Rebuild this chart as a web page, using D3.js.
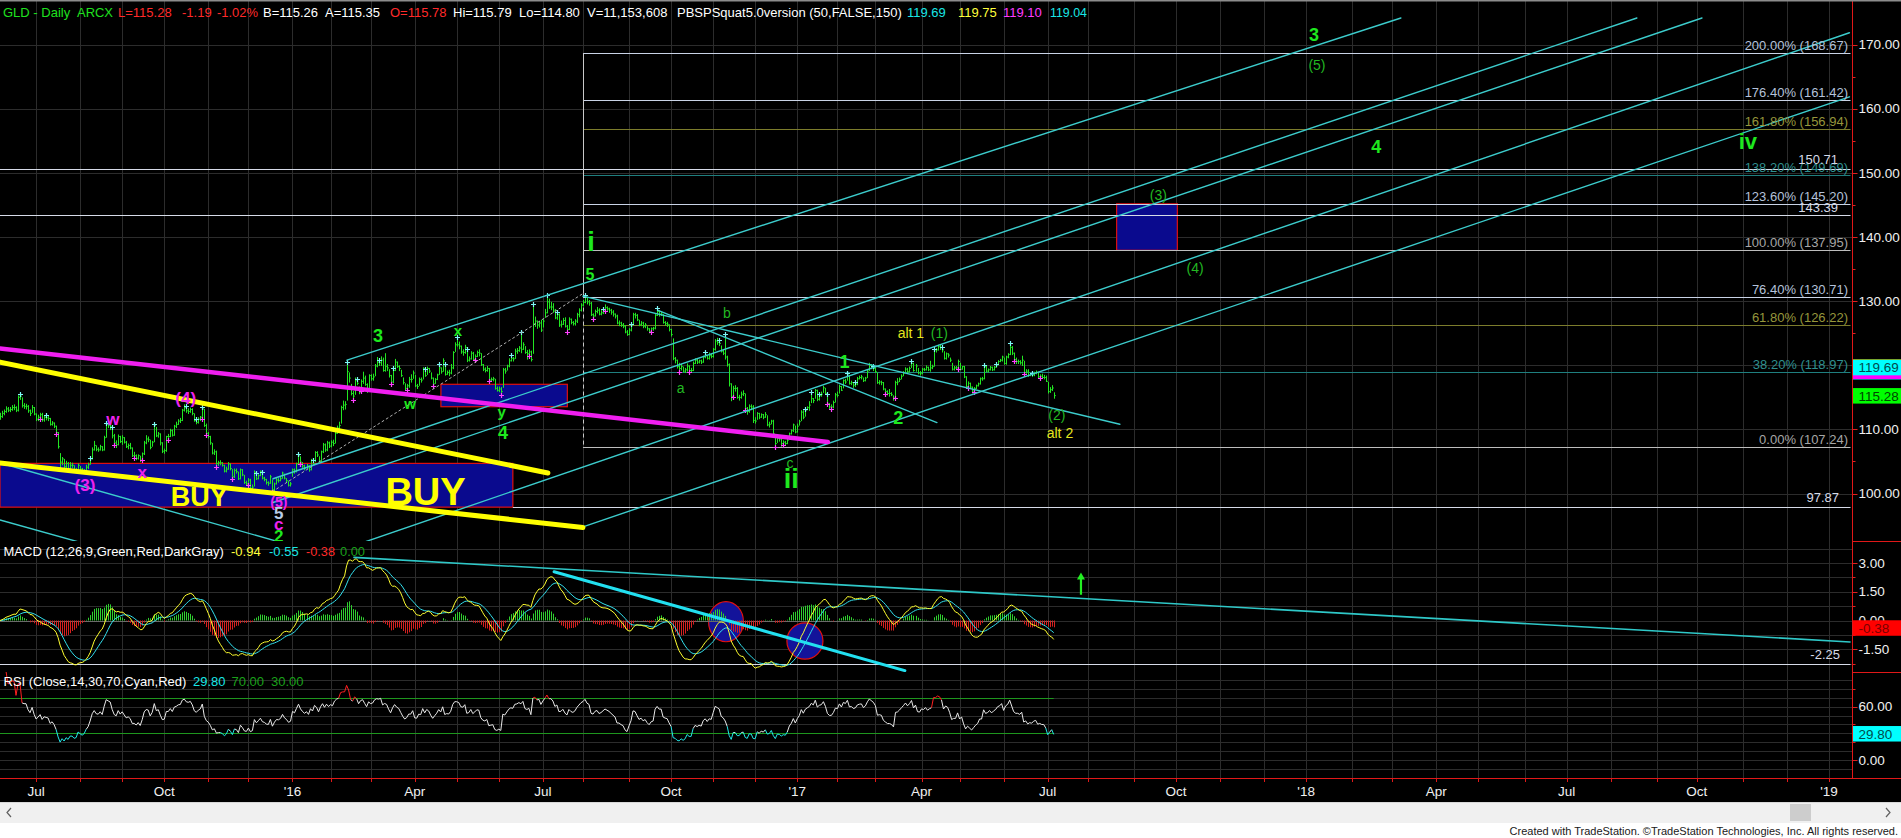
<!DOCTYPE html>
<html><head><meta charset="utf-8">
<script src="https://cdn.jsdelivr.net/npm/d3@7"></script>
<style>html,body{margin:0;padding:0;background:#000;overflow:hidden}text{font-family:'Liberation Sans',Arial,sans-serif}</style>
</head><body>
<svg id="c" width="1901" height="838"></svg>
<script>
// ---------------- DATA ----------------
// GLD daily bars, Jun 5 2015 .. Jul 7 2017 (bar index 0 = Jun 5 2015, Jul 1 2015 = 18)
const closes = [
112.0,112.5,112.8,113.2,113.0,113.1,113.4,113.4,113.0,115.0,115.2,113.7,113.6,113.6,112.9,112.5,113.4,112.4,
111.6,111.9,112.3,111.5,111.9,111.8,111.7,110.8,111.0,110.5,109.5,107.3,104.9,105.4,104.2,104.7,103.9,104.4,104.4,103.5,103.6,104.4,
103.8,103.3,103.5,104.1,104.5,105.4,106.8,107.5,106.9,106.8,107.3,106.8,108.7,110.8,110.6,110.4,109.0,107.9,107.6,108.9,108.1,
108.7,108.0,107.3,107.5,107.1,105.9,105.9,105.5,105.9,105.2,106.2,107.9,108.5,108.4,107.2,108.0,110.6,109.0,109.3,107.9,106.6,
106.7,108.9,108.9,109.8,109.1,110.5,110.8,111.3,111.4,113.0,113.4,112.9,112.8,113.1,112.5,111.4,111.1,111.6,111.9,113.2,110.6,109.4,
108.9,107.9,106.3,106.5,104.7,104.8,104.8,104.4,103.5,103.8,104.6,103.9,102.6,103.6,103.4,102.3,103.7,102.9,101.7,101.5,
102.1,100.8,101.0,103.3,102.3,102.8,103.4,102.4,102.2,101.7,101.6,102.6,100.6,101.5,102.1,102.0,102.3,103.2,102.4,102.0,101.3,101.5,
103.7,103.4,104.6,105.9,104.9,104.3,103.9,104.3,103.7,105.2,104.7,106.4,106.0,105.0,106.5,107.6,106.8,107.9,107.4,
108.0,107.8,109.4,110.2,110.6,113.4,113.8,113.9,119.0,118.0,115.6,115.2,117.7,117.2,115.8,117.5,118.0,117.0,116.0,118.4,
117.9,118.2,119.9,120.5,120.4,120.8,119.2,119.8,119.6,118.4,117.4,119.2,120.5,119.8,119.5,118.4,117.3,116.4,116.8,117.8,117.8,118.8,
116.8,116.7,117.8,117.7,119.5,118.4,119.5,119.1,118.0,117.1,117.8,118.5,119.6,119.0,120.7,118.6,118.9,118.8,119.6,122.0,123.2,
123.2,123.0,122.1,122.0,122.8,120.8,121.0,121.9,120.9,121.4,122.0,121.9,120.1,119.4,119.2,119.5,117.7,117.8,117.9,116.4,116.1,
116.3,115.9,119.3,119.1,119.9,120.7,121.1,121.0,122.2,122.3,122.7,122.5,123.2,122.0,121.8,122.1,120.9,126.5,126.9,126.3,126.6,125.5,
126.9,128.2,129.9,129.1,129.1,128.6,127.4,127.9,126.3,126.4,127.0,126.1,125.6,127.2,126.7,126.5,126.9,127.9,128.6,129.4,
129.8,130.6,129.9,129.7,127.9,127.7,128.4,128.6,128.0,128.2,128.6,129.0,128.8,128.6,128.3,128.0,127.7,126.6,126.6,126.3,126.1,125.2,124.8,
125.5,126.2,127.9,127.8,127.1,126.4,126.6,126.1,126.3,125.7,125.3,125.7,125.8,127.8,128.4,128.0,128.0,126.7,126.5,126.4,125.6,
124.8,121.1,120.8,119.8,119.5,119.8,119.1,119.3,119.9,119.2,119.2,120.3,120.8,120.5,120.7,120.5,121.3,121.6,121.1,121.5,121.4,
122.5,123.8,123.6,123.4,122.2,121.9,121.3,120.1,117.1,115.1,116.4,116.4,115.0,115.0,115.5,115.6,113.3,112.8,113.6,113.5,111.4,
111.3,112.5,111.9,112.3,111.9,112.3,110.7,110.8,111.3,109.3,107.8,108.6,108.5,107.8,108.0,107.8,108.3,109.3,109.8,110.7,109.6,
110.5,111.2,112.7,111.9,113.0,113.4,113.8,114.8,114.5,116.1,114.7,115.3,115.5,116.5,115.6,114.0,113.5,113.5,114.2,115.4,
115.3,116.7,116.1,117.6,117.4,118.5,117.2,117.3,116.9,117.1,117.9,118.1,118.2,117.6,118.0,119.1,120.0,119.7,119.5,
119.0,117.3,117.4,117.3,116.3,115.9,115.6,115.6,115.4,114.9,117.3,117.4,117.8,118.3,118.8,119.4,119.0,119.5,120.3,119.2,119.9,118.8,118.7,
119.4,119.3,119.7,119.3,119.6,119.8,122.4,122.4,122.9,122.8,122.4,121.1,121.8,121.6,120.8,119.4,119.6,119.6,120.6,
119.4,119.8,118.2,116.7,117.2,116.6,116.0,116.4,116.8,117.1,117.9,117.9,119.8,119.1,119.3,119.7,119.3,119.7,120.0,120.6,120.8,121.3,
120.3,121.3,121.7,122.8,121.9,120.9,120.6,120.6,120.4,120.8,118.9,119.1,118.4,118.6,118.5,118.8,118.9,118.2,118.3,118.1,118.1,117.5,
115.9,116.2,116.47,115.28];
const highs = [
112.6,112.9,113.1,113.6,113.5,113.5,113.8,113.9,113.6,115.3,115.6,115.0,114.1,114.0,113.8,113.1,113.8,113.5,
112.5,112.3,112.6,112.6,112.2,112.3,112.2,111.8,111.3,111.1,110.6,109.6,106.3,105.7,105.4,105.1,104.9,104.9,104.8,104.4,104.0,104.7,
104.3,104.0,103.8,104.5,104.8,105.6,107.2,108.2,107.5,107.2,107.6,107.4,109.0,111.0,111.1,111.4,110.4,109.3,108.3,109.2,109.0,
109.1,108.8,108.2,107.8,107.9,107.2,106.5,106.1,106.1,105.9,106.4,108.2,109.1,108.9,108.4,108.2,110.9,110.4,109.6,109.4,108.0,
107.0,109.0,109.3,110.1,110.0,110.7,111.2,111.6,111.8,113.2,113.9,113.6,113.3,113.4,113.3,112.5,111.6,111.9,112.1,113.5,113.2,110.9,
109.6,109.0,107.9,106.9,106.7,105.1,105.2,104.9,104.5,104.2,104.9,104.7,103.8,103.9,103.9,103.4,103.9,103.8,102.9,102.0,
102.4,102.3,101.4,103.6,103.2,103.0,103.6,103.3,102.6,102.3,101.9,102.9,102.2,101.7,102.4,102.4,102.6,103.4,103.1,102.4,102.0,101.8,
103.9,103.9,104.8,106.2,105.8,104.9,104.5,104.6,104.4,105.4,105.2,106.6,106.6,105.8,106.7,107.9,107.8,108.2,108.1,
108.3,108.4,109.7,110.6,111.2,113.7,114.5,114.4,120.5,118.9,117.1,116.0,118.1,117.9,116.7,117.8,119.0,118.4,117.2,118.6,
118.6,118.7,120.2,121.3,120.9,121.4,121.2,121.9,120.2,119.4,118.5,119.6,121.0,120.6,120.0,119.3,118.1,117.2,117.1,118.2,118.6,119.2,
118.5,117.1,118.1,118.1,119.7,119.4,119.8,119.6,118.9,118.1,118.0,118.7,120.2,119.7,121.1,120.2,119.2,119.3,120.2,122.2,123.6,
124.4,123.7,123.1,122.5,123.2,122.6,121.4,122.2,122.1,121.7,122.3,122.5,121.9,120.2,119.7,119.9,119.6,118.1,118.2,117.9,116.7,
116.7,116.6,119.6,119.6,120.1,121.1,121.6,121.3,122.6,122.7,123.0,125.2,123.6,123.0,122.4,122.5,122.3,129.6,127.6,127.0,126.9,127.1,
127.2,128.8,131.0,130.4,129.9,129.7,128.8,128.3,128.1,127.0,127.4,127.5,126.3,127.5,127.3,126.9,127.2,128.2,128.9,129.7,
130.2,131.0,130.7,130.2,129.9,128.1,128.7,129.1,128.9,128.6,128.8,129.5,129.2,129.0,128.8,128.6,128.1,127.9,127.0,126.8,126.6,126.3,125.5,
125.8,126.5,128.2,128.2,128.0,127.1,126.9,126.8,126.6,126.1,125.8,125.9,126.0,128.0,128.9,128.6,128.3,128.0,126.9,126.8,126.4,
125.7,124.2,121.3,120.9,120.4,120.2,119.8,119.6,120.3,120.0,119.6,120.6,121.1,121.0,120.9,120.9,121.5,122.1,121.6,122.0,121.8,
122.7,124.1,124.3,124.0,123.1,122.5,124.9,121.5,120.3,117.2,116.8,116.9,116.6,115.4,115.9,116.1,115.6,113.5,113.9,113.9,113.8,
111.9,112.7,112.6,112.5,112.4,112.7,112.2,111.2,111.5,111.5,108.9,108.8,108.9,108.5,108.3,108.2,108.5,109.5,110.0,110.9,110.6,
110.9,111.5,113.0,113.0,113.2,113.6,114.4,115.8,114.9,116.3,116.2,115.6,115.9,116.8,116.5,115.6,114.1,113.9,114.5,115.7,
115.9,117.0,116.8,117.8,117.9,118.8,118.4,117.6,117.3,117.4,118.2,118.4,118.5,118.1,118.2,119.3,120.4,120.2,119.9,
119.7,118.9,117.7,117.6,117.4,116.4,116.1,116.3,115.8,115.3,117.6,118.0,118.1,118.6,119.1,119.7,119.6,119.8,120.6,120.4,120.2,119.6,119.1,
119.6,119.6,120.0,119.8,120.7,120.1,122.6,122.7,123.2,123.3,122.9,122.2,122.0,121.9,121.2,120.4,119.9,119.9,120.9,
120.4,119.9,119.9,118.3,117.5,117.3,116.7,116.6,117.0,117.3,118.1,118.2,120.0,120.0,119.5,119.9,119.8,119.9,120.2,120.8,121.0,121.5,
121.2,121.5,121.9,123.5,123.0,122.0,121.2,120.9,120.8,121.5,120.7,119.4,119.4,118.8,118.8,119.0,119.2,119.0,118.6,118.7,118.5,118.4,
117.4,116.6,116.9,115.79];
const lows = [
111.5,111.8,112.2,112.6,112.7,112.7,112.9,113.0,112.7,112.8,114.6,113.4,113.2,113.1,112.6,112.1,112.6,112.2,
111.3,111.3,111.6,111.2,111.2,111.4,111.3,110.6,110.6,110.2,109.3,107.0,103.6,104.4,103.9,104.0,103.3,103.8,104.0,103.3,103.2,103.5,
103.6,103.1,103.1,103.4,103.8,104.5,105.3,106.7,106.6,106.5,106.7,106.6,106.7,108.7,110.2,109.9,108.6,107.5,107.1,107.5,107.9,
107.6,107.8,107.1,106.9,106.9,105.7,105.5,105.2,105.3,104.9,105.3,106.0,107.7,108.0,106.9,107.3,108.0,108.8,108.7,107.5,106.3,
106.2,106.5,108.4,108.8,108.9,109.0,110.2,110.7,111.0,111.3,112.8,112.6,112.4,112.6,112.2,111.2,110.8,110.9,111.3,111.7,110.4,109.2,
108.6,107.6,106.1,106.0,104.2,104.3,104.4,104.2,103.3,103.3,103.7,103.6,102.2,102.4,103.1,102.1,102.2,102.7,101.5,101.2,
101.3,100.6,100.4,101.1,102.1,102.2,102.7,102.2,101.9,101.4,101.2,101.5,100.3,100.2,101.4,101.7,101.9,102.3,102.2,101.7,101.1,101.1,
102.6,103.1,103.3,104.5,104.6,104.0,103.6,103.8,103.4,103.6,104.4,104.9,105.7,104.8,104.9,106.3,106.5,106.6,107.1,
107.2,107.4,107.8,109.3,109.8,110.9,113.0,113.1,114.5,117.3,115.3,114.6,115.4,116.9,115.5,116.0,117.1,116.8,115.7,116.2,
117.6,117.6,118.3,119.7,119.9,119.9,119.0,119.0,119.1,118.1,117.1,117.2,119.1,119.6,119.1,118.2,117.0,116.1,116.2,116.5,117.3,117.9,
116.6,116.3,116.8,117.3,117.8,118.2,118.5,118.8,117.8,116.8,117.1,117.7,118.5,118.7,119.0,118.4,118.5,118.3,118.6,119.4,122.1,
122.9,122.5,121.8,121.5,121.8,120.5,120.6,120.9,120.7,120.8,121.3,121.4,119.9,119.1,118.9,119.0,117.5,117.4,117.5,116.2,115.9,
115.8,115.3,116.5,118.7,119.2,119.7,120.6,120.6,121.0,121.8,122.1,121.9,122.4,121.8,120.9,121.4,120.6,121.8,126.0,125.7,125.9,125.2,
125.9,127.4,128.1,128.8,128.6,128.2,127.2,127.1,126.0,125.9,126.3,125.9,125.2,125.5,126.4,126.2,126.2,126.6,127.5,128.4,
129.2,129.7,129.5,129.3,127.7,127.2,127.6,128.1,127.8,127.8,128.0,128.4,128.5,128.2,127.9,127.6,127.3,126.4,126.1,126.0,125.8,125.0,124.6,
124.7,125.3,126.3,127.3,126.9,126.1,126.1,125.8,125.8,125.4,125.0,125.2,125.4,125.6,127.7,127.6,127.7,126.5,126.2,126.0,125.3,
124.5,120.8,120.3,119.5,118.9,119.2,118.9,118.8,119.0,119.0,118.9,119.1,120.2,120.2,120.3,120.2,120.4,121.1,120.9,120.9,121.1,
121.2,122.3,123.2,123.0,122.0,121.6,120.9,119.8,116.7,114.4,115.0,115.9,114.8,114.5,114.8,115.2,113.0,112.3,112.6,113.0,111.0,
110.9,111.5,111.6,111.8,111.6,111.8,110.5,110.3,110.8,109.1,107.24,107.9,108.1,107.3,107.6,107.5,107.7,108.4,109.2,109.6,109.4,
109.5,110.6,111.3,111.6,112.0,113.0,112.9,114.1,114.1,114.8,114.4,114.5,115.1,115.7,115.4,113.9,113.2,113.2,113.3,114.2,
115.0,115.6,116.0,116.4,117.1,117.6,117.0,116.9,116.5,116.6,116.9,117.8,117.8,117.4,117.5,118.0,119.1,119.4,119.1,
118.8,117.1,117.0,116.9,116.1,115.6,115.3,115.1,115.2,114.5,114.9,116.9,117.4,117.8,118.3,118.9,118.8,118.9,119.6,119.0,119.0,118.6,118.4,
118.6,119.1,119.2,119.1,119.0,119.4,119.8,122.0,122.3,122.4,122.0,120.9,120.9,121.2,120.5,119.2,119.2,119.3,119.5,
119.2,119.3,118.0,116.5,116.4,116.4,115.6,115.9,116.3,116.7,117.0,117.6,117.8,118.9,118.9,119.2,119.1,119.2,119.6,120.0,120.5,120.6,
120.1,120.1,121.1,121.6,121.6,120.7,120.2,120.2,120.1,119.9,118.7,118.7,118.2,118.3,118.2,118.3,118.6,118.0,118.0,117.9,117.8,117.4,
115.6,115.7,116.0,114.80];

// indicator marks (PBSPSquat) - bar indices
const cyanMarks = [10,23,45,53,56,77,93,98,101,128,131,149,156,173,178,189,196,212,219,222,228,233,255,260,266,273,278,292,301,315,328,352,359,362,402,405,409,413,423,427,436,455,466,470,491,497,504,515];
const magentaMarks = [20,28,57,67,71,84,101,103,108,116,124,136,150,176,180,195,203,216,237,244,250,264,283,296,302,325,339,344,366,372,387,391,413,415,442,447,478,483,486,506,511,519];

// time axis (bar index of first session of each month; future uses weekdays)
const monthStarts = [18,40,61,82,104,124,146,165,185,207,228,249,271,291,314,335,356,377,398,418,437,460,479,501,523,543,566,587,609,631,652,675,695,717,738,761,782,804,827,847,870,892,913];
const timeTickBars = [18,82,146,207,271,335,398,460,523,587,652,717,782,847,913];
const timeTickLabels = ["Jul","Oct","'16","Apr","Jul","Oct","'17","Apr","Jul","Oct","'18","Apr","Jul","Oct","'19"];

// value axes
const priceTicks = [170,160,150,140,130,120,110,100];
const priceTickHidden = [120];
const macdTicks = [3,1.5,0,-1.5];
const rsiTicks = [60,0];

// fibonacci levels
const fibPct   = ["200.00%","176.40%","161.80%","138.20%","123.60%","100.00%","76.40%","61.80%","38.20%","0.00%"];
const fibPrice = [168.67,161.42,156.94,149.69,145.20,137.95,130.71,126.22,118.97,107.24];
const fibKind  = ["light","light","olive","teal","light","gray","light","olive","teal","gray"];
const fibStartBar = 291;
const fibPeak = 131.2;
const extraLevels = [150.71,143.39];
const supportLevel = 97.87;
const macdLevel = -2.25;

// drawn trend lines [bar1, value1, bar2, value2]
const channelLines = [[173.2,120.8,699.3,174.2],[136.3,102.3,817.1,174.2],[136.3,98.6,849.6,174.2],[181.7,92.4,923.2,171.9],[291,94.8,923.2,161.9]];
const fallingLines = [[291,130.8,559,110.8],[328.5,128.56,467.7,111.07],[0,104.77,139.3,92.45],[0,95.87,39.4,92.43]];
const yellowLines = [[0,120.5,273.5,103.2],[0,104.77,291,94.7]];
const magentaLines = [[0,122.64,413.3,108.05]];
const dottedLines = [[136,100.3,291,131.2]];
const blueBoxes = [[0,256,97.87,104.7],[220.1,283.2,113.54,117.04],[557.4,587.7,137.95,145.2]];
const macdThinLines = [[176.7,3.30,923.5,-1.12]];
const macdThickLines = [[276.6,2.55,451.7,-2.62]];
const macdEllipses = [[362.4,-0.06,8.7,1.05],[401.8,-1.07,9.0,0.95]];
const macdArrow = [539.6,1.35,2.45];

// wave labels: text, bar, price, kind
const labelText  = ["3","x","w","y","4","5","i","b","a","c","ii","1","2","alt 1","(1)","(2)","alt 2","(3)","(4)","3","(5)","4","iv","(4)","w","x","(3)","(5)","5","c","2","BUY","BUY"];
const labelBar   = [188.7,228.6,204.7,250.4,251.1,294.5,295,362.8,339.8,394.3,395,421.6,448.4,454.7,468.9,527.6,529.1,578.2,596.6,655.9,657.4,687,872.5,92.7,56.3,71.0,42.4,139.2,139.2,139.2,139.2,99.5,212.4];
const labelPrice = [124.57,125.4,114.0,112.76,109.5,134.25,139.3,128.1,116.5,104.8,102.2,120.56,111.73,125.0,125.0,112.24,109.48,146.58,135.23,171.55,166.86,154.1,154.9,114.9,111.6,103.2,101.2,98.6,96.85,95.2,93.3,99.4,100.2];
const labelKind  = ["G","gw","gw","gw","G","G5","GL","g","g","g","GL","G","G","Y","g","g","Y","g","g","G","g","G","GM","M","M","M","M","Ms","LB","MB","GS","BUY1","BUY2"];

// header / legends
const headerText = ["GLD - Daily","ARCX","L=115.28","-1.19","-1.02%","B=115.26","A=115.35","O=115.78","Hi=115.79","Lo=114.80","V=11,153,608","PBSPSquat5.0version (50,FALSE,150)","119.69","119.75","119.10","119.04"];
const headerColor = ["g","g","r","r","r","w","w","r","w","w","w","w","c","y","m","c"];
const macdLegend = ["MACD (12,26,9,Green,Red,DarkGray)","-0.94","-0.55","-0.38","0.00"];
const macdLegendColor = ["w","y","c","r","dg"];
const rsiLegend = ["RSI (Close,14,30,70,Cyan,Red)","29.80","70.00","30.00"];
const rsiLegendColor = ["w","c","dg","dg"];
// last-value markers on the axis: value, text (empty when covered by another marker), colour
const priceLast = [[119.04,"","c"],[119.10,"","m"],[119.75,"","y"],[119.69,"119.69","c"],[115.28,"115.28","g"]];
const macdLast = [[-0.38,"-0.38","r"]];
const rsiLast = [[29.80,"29.80","c"]];

// ---------------- LAYOUT / STYLE ----------------
const W=1901,H=838,AX=1852.5,PB=541,MB=672,RB=778;
const COL={w:'#ffffff',g:'#1fe01f',r:'#ff2a2a',c:'#19e6e6',y:'#ffff3c',m:'#ff3cff',dg:'#1aa01a'};
const BOXCOL={c:['#00ffff','#004c4c'],m:['#ff00ff','#4c004c'],y:['#ffff00','#4c4c00'],g:['#00ff00','#004400'],r:['#ff0000','#7a0000']};
const FIBCOL={light:['#c9d3e6','#b4c2da'],olive:['#7c7c2c','#96963c'],teal:['#1f7f7f','#2f8f8f'],gray:['#bdbdbd','#a6a6a6']};
const LSTY={G:['#1ee81e',18,'bold'],GL:['#1ee81e',27,'bold'],GM:['#1ee81e',22,'bold'],G5:['#1ee81e',16,'bold'],gw:['#1ee81e',15,'bold'],GS:['#1ee81e',17,'bold'],
  g:['#22b822',14,'normal'],Y:['#e6e61e',14,'normal'],M:['#ee22ee',17,'bold'],Ms:['#ee22ee',14,'bold'],MB:['#ee22ee',17,'bold'],LB:['#b8cce8',17,'bold'],
  BUY1:['#ffff00',27,'bold'],BUY2:['#ffff00',38,'bold']};
const CYAN='#3ccccc';

const x = d3.scaleLinear().domain([0,913]).range([0,1829]);
const yP = d3.scaleLinear().domain([100,170]).range([493.5,44.9]);
const yM = d3.scaleLinear().domain([-1.5,3]).range([649.2,563.1]);
const yR = d3.scaleLinear().domain([0,60]).range([760,706.7]);

const svg = d3.select('#c');
svg.append('rect').attr('width',W).attr('height',H).attr('fill','#000');
const defs = svg.append('defs');
function clip(id,y0,y1){defs.append('clipPath').attr('id',id).append('rect').attr('x',0).attr('y',y0).attr('width',AX).attr('height',y1-y0);}
clip('cp',0,PB); clip('cm',PB,MB); clip('cr',MB,RB);
const px = v => Math.round(v)+0.5;

// grid
const grid = svg.append('g').attr('stroke','#2c2c2c').attr('stroke-width',1);
monthStarts.forEach(b=>{const xx=px(x(b)); if(xx<AX) grid.append('line').attr('x1',xx).attr('x2',xx).attr('y1',0).attr('y2',RB);});
priceTicks.forEach(v=>grid.append('line').attr('x1',0).attr('x2',AX).attr('y1',px(yP(v))).attr('y2',px(yP(v))));
d3.range(-2.25,4.0,0.75).forEach(v=>{const yy=yM(v); if(yy>PB&&yy<MB) grid.append('line').attr('x1',0).attr('x2',AX).attr('y1',px(yy)).attr('y2',px(yy));});
d3.range(-10,100,10).forEach(v=>{const yy=yR(v); if(yy>MB&&yy<RB) grid.append('line').attr('x1',0).attr('x2',AX).attr('y1',px(yy)).attr('y2',px(yy));});

// ---------- PRICE PANEL ----------
const gP = svg.append('g').attr('clip-path','url(#cp)');
blueBoxes.forEach(b=>gP.append('rect').attr('x',x(b[0])).attr('y',yP(b[3])).attr('width',x(b[1])-x(b[0])).attr('height',yP(b[2])-yP(b[3]))
  .attr('fill','#0a0a8e').attr('stroke','#e01010').attr('stroke-width',1.2));
extraLevels.forEach(v=>gP.append('line').attr('x1',0).attr('x2',AX-2).attr('y1',px(yP(v))).attr('y2',px(yP(v))).attr('stroke','#d6dbe8').attr('stroke-width',1));
gP.append('line').attr('x1',x(blueBoxes[0][1])).attr('x2',AX-2).attr('y1',px(yP(supportLevel))).attr('y2',px(yP(supportLevel))).attr('stroke','#d6dbe8');
fibPrice.forEach((v,i)=>gP.append('line').attr('x1',x(fibStartBar)).attr('x2',AX-2).attr('y1',px(yP(v))).attr('y2',px(yP(v))).attr('stroke',FIBCOL[fibKind[i]][0]).attr('stroke-width',1));
gP.append('line').attr('x1',px(x(fibStartBar))).attr('x2',px(x(fibStartBar))).attr('y1',yP(fibPrice[0])).attr('y2',yP(fibPeak)).attr('stroke','#c8c8c8');
gP.append('line').attr('x1',px(x(fibStartBar))).attr('x2',px(x(fibStartBar))).attr('y1',yP(fibPeak)).attr('y2',yP(fibPrice[9])).attr('stroke','#c8c8c8').attr('stroke-dasharray','4,3');

let bp='';
closes.forEach((c,i)=>{const bx=px(x(i)); bp+=`M${bx},${yP(highs[i]).toFixed(1)}V${yP(lows[i]).toFixed(1)}M${bx},${yP(c).toFixed(1)}h1.3`;});
gP.append('path').attr('d',bp).attr('stroke','#22e622').attr('stroke-width',1).attr('fill','none');
function crosses(list,arr,col){let p='';list.forEach(b=>{const cx=px(x(b)),cy=px(yP(arr[b]));p+=`M${cx-2.5},${cy}h5M${cx},${cy-2.5}v5`;});gP.append('path').attr('d',p).attr('stroke',col).attr('stroke-width',1.2);}
crosses(cyanMarks,highs,'#7ff5f5');
crosses(magentaMarks,lows,'#ff40ff');

function seg(g,arr,ys,col,w,dash){arr.forEach(l=>{const e=g.append('line').attr('x1',x(l[0])).attr('y1',ys(l[1])).attr('x2',x(l[2])).attr('y2',ys(l[3])).attr('stroke',col).attr('stroke-width',w).attr('stroke-linecap','round'); if(dash) e.attr('stroke-dasharray',dash);});}
seg(gP,dottedLines,yP,'#b0b0b0',1,'2,3');
seg(gP,channelLines,yP,CYAN,1.4);
seg(gP,fallingLines,yP,CYAN,1.4);
seg(gP,magentaLines,yP,'#f01ef0',4.5);
seg(gP,yellowLines,yP,'#ffff00',5);

labelText.forEach((t,i)=>{const s=LSTY[labelKind[i]];
  gP.append('text').attr('x',x(labelBar[i])).attr('y',yP(labelPrice[i])).attr('text-anchor','middle').attr('dominant-baseline','central')
   .attr('fill',s[0]).attr('font-size',s[1]).attr('font-weight',s[2]).text(t);});

fibPrice.forEach((v,i)=>svg.append('text').attr('x',1848).attr('y',yP(v)-3).attr('text-anchor','end').attr('font-size',13)
  .attr('fill',FIBCOL[fibKind[i]][1]).text(`${fibPct[i]} (${v.toFixed(2)})`));
svg.append('text').attr('x',1838).attr('y',yP(extraLevels[0])-5).attr('text-anchor','end').attr('font-size',13).attr('fill','#d6dbe8').text(extraLevels[0].toFixed(2));
svg.append('text').attr('x',1838).attr('y',yP(extraLevels[1])-3).attr('text-anchor','end').attr('font-size',13).attr('fill','#d6dbe8').text(extraLevels[1].toFixed(2));
svg.append('text').attr('x',1839).attr('y',yP(supportLevel)-5).attr('text-anchor','end').attr('font-size',13).attr('fill','#d6dbe8').text(supportLevel.toFixed(2));

// ---------- MACD PANEL ----------
function ema(a,n){const k=2/(n+1);const o=[];a.forEach((v,i)=>o.push(i?v*k+o[i-1]*(1-k):v));return o;}
const e12=ema(closes,12),e26=ema(closes,26);
const macd=e12.map((v,i)=>v-e26[i]);
const sig=ema(macd,9);
const diff=macd.map((v,i)=>v-sig[i]);
const gM=svg.append('g').attr('clip-path','url(#cm)');
macdEllipses.forEach(e=>gM.append('ellipse').attr('cx',x(e[0])).attr('cy',yM(e[1])).attr('rx',x(e[2])-x(0)).attr('ry',yM(0)-yM(e[3]))
  .attr('fill','#13139a').attr('stroke','#e01010').attr('stroke-width',1.2));
gM.append('line').attr('x1',0).attr('x2',x(closes.length-1)).attr('y1',px(yM(0))).attr('y2',px(yM(0))).attr('stroke','#6a6a6a');
gM.append('line').attr('x1',0).attr('x2',AX-2).attr('y1',px(yM(macdLevel))).attr('y2',px(yM(macdLevel))).attr('stroke','#d6dbe8');
let hp='',hn='';
diff.forEach((d,i)=>{const bx=px(x(i));const s=`M${bx},${yM(0).toFixed(1)}V${yM(d).toFixed(1)}`; if(d>=0)hp+=s;else hn+=s;});
gM.append('path').attr('d',hp).attr('stroke','#2fd02f').attr('stroke-width',1);
gM.append('path').attr('d',hn).attr('stroke','#d42020').attr('stroke-width',1);
const lm=d3.line().x((d,i)=>x(i)).y(d=>yM(d));
gM.append('path').attr('d',lm(sig)).attr('fill','none').attr('stroke','#33e0ee').attr('stroke-width',1);
gM.append('path').attr('d',lm(macd)).attr('fill','none').attr('stroke','#ffff30').attr('stroke-width',1);
seg(gM,macdThinLines,yM,'#2fc8c8',1.6);
seg(gM,macdThickLines,yM,'#22e0f0',3);
const ax0=x(macdArrow[0]);
gM.append('line').attr('x1',ax0).attr('x2',ax0).attr('y1',yM(macdArrow[1])).attr('y2',yM(macdArrow[2])+4).attr('stroke','#22ee22').attr('stroke-width',2.2);
gM.append('path').attr('d',`M${ax0-4},${yM(macdArrow[2])+6}L${ax0},${yM(macdArrow[2])-1}L${ax0+4},${yM(macdArrow[2])+6}Z`).attr('fill','#22ee22');
svg.append('text').attr('x',1840).attr('y',yM(macdLevel)-5).attr('text-anchor','end').attr('font-size',13).attr('fill','#d6dbe8').text(macdLevel.toFixed(2));

// ---------- RSI PANEL ----------
const rsi=[];let ag=0,al=0;
for(let i=1;i<closes.length;i++){const ch=closes[i]-closes[i-1];const g=Math.max(ch,0),l=Math.max(-ch,0);
  if(i<=14){ag=(ag*(i-1)+g)/i;al=(al*(i-1)+l)/i;}else{ag=(ag*13+g)/14;al=(al*13+l)/14;}
  rsi[i]=al===0?100:100-100/(1+ag/al);}
const gR=svg.append('g').attr('clip-path','url(#cr)');
[70,30].forEach(v=>gR.append('line').attr('x1',0).attr('x2',x(closes.length-1)).attr('y1',px(yR(v))).attr('y2',px(yR(v))).attr('stroke','#1e961e'));
let rw='',rc='',rr='';
for(let i=2;i<closes.length;i++){const s=`M${x(i-1).toFixed(1)},${yR(rsi[i-1]).toFixed(1)}L${x(i).toFixed(1)},${yR(rsi[i]).toFixed(1)}`;
  if(rsi[i]<30||rsi[i-1]<30)rc+=s;else if(rsi[i]>70||rsi[i-1]>70)rr+=s;else rw+=s;}
gR.append('path').attr('d',rw).attr('stroke','#e8e8e8').attr('fill','none').attr('stroke-width',1);
gR.append('path').attr('d',rc).attr('stroke','#22e8e8').attr('fill','none').attr('stroke-width',1);
gR.append('path').attr('d',rr).attr('stroke','#ff2020').attr('fill','none').attr('stroke-width',1);

// ---------- legends ----------
function legend(parts,cols,starts,end,y){parts.forEach((t,i)=>{const e=svg.append('text').attr('x',starts[i]).attr('y',y).attr('font-size',13).attr('fill',COL[cols[i]]).text(t);
  const avail=(i<parts.length-1?starts[i+1]:end)-starts[i]-5; const nat=e.node().getComputedTextLength(); if(nat>avail)e.attr('textLength',avail).attr('lengthAdjust','spacingAndGlyphs');});}
legend(headerText,headerColor,[3,77,118,182,217,263,325,390,453,519,587,677,907,958,1003,1050],1092,17);
legend(macdLegend,macdLegendColor,[3.5,231,269,306,340],370,556);
legend(rsiLegend,rsiLegendColor,[3.5,193,231.5,271],309,686);

// ---------- right axis ----------
svg.append('rect').attr('x',AX).attr('y',0).attr('width',W-AX).attr('height',RB).attr('fill','#000');
const axg=svg.append('g');
function axisLabels(ticks,ys,fmt,hidden){ticks.forEach(v=>{const yy=ys(v);
  axg.append('line').attr('x1',AX).attr('x2',AX+5).attr('y1',px(yy)).attr('y2',px(yy)).attr('stroke','#e02020');
  if(!(hidden&&hidden.includes(v))) axg.append('text').attr('x',AX+6).attr('y',yy).attr('dominant-baseline','central').attr('font-size',13.5).attr('fill','#f0f0f0').text(fmt(v));});}
axisLabels(priceTicks,yP,v=>v.toFixed(2),priceTickHidden);
axisLabels(macdTicks,yM,v=>v.toFixed(2));
axisLabels(rsiTicks,yR,v=>v.toFixed(2));
[105,115,125,135,145,155,165].forEach(v=>axg.append('line').attr('x1',AX).attr('x2',AX+3).attr('y1',px(yP(v))).attr('y2',px(yP(v))).attr('stroke','#e02020'));
[2.25,0.75,-0.75,-2.25].forEach(v=>axg.append('line').attr('x1',AX).attr('x2',AX+3).attr('y1',px(yM(v))).attr('y2',px(yM(v))).attr('stroke','#e02020'));
[80,40,20,-20].forEach(v=>axg.append('line').attr('x1',AX).attr('x2',AX+3).attr('y1',px(yR(v))).attr('y2',px(yR(v))).attr('stroke','#e02020'));
function valueBoxes(list,ys){list.forEach(d=>{const yy=ys(d[0]);const c=BOXCOL[d[2]];
  axg.append('rect').attr('x',AX+0.5).attr('y',yy-7.5).attr('width',W-AX).attr('height',15.5).attr('fill',c[0]);
  if(d[1]) axg.append('text').attr('x',AX+6).attr('y',yy+0.5).attr('dominant-baseline','central').attr('font-size',13.5).attr('fill',c[1]).text(d[1]);});}
valueBoxes(priceLast,yP); valueBoxes(macdLast,yM); valueBoxes(rsiLast,yR);
axg.append('line').attr('x1',AX).attr('x2',AX).attr('y1',0).attr('y2',RB).attr('stroke','#e01818').attr('stroke-width',1);
[PB,MB].forEach(yy=>axg.append('line').attr('x1',AX).attr('x2',W).attr('y1',yy+0.5).attr('y2',yy+0.5).attr('stroke','#e01818'));

// ---------- time axis ----------
svg.append('rect').attr('x',0).attr('y',RB).attr('width',W).attr('height',802-RB).attr('fill','#000');
svg.append('line').attr('x1',0).attr('x2',W).attr('y1',RB+0.5).attr('y2',RB+0.5).attr('stroke','#e01818');
monthStarts.forEach(b=>{const xx=px(x(b)); if(xx<AX) svg.append('line').attr('x1',xx).attr('x2',xx).attr('y1',RB).attr('y2',RB+4).attr('stroke','#e01818');});
timeTickBars.forEach((b,i)=>svg.append('text').attr('x',x(b)).attr('y',796).attr('text-anchor','middle').attr('font-size',13.5).attr('fill','#f0f0f0').text(timeTickLabels[i]));

svg.append('rect').attr('x',0).attr('y',0).attr('width',W).attr('height',1.5).attr('fill','#8c8c8c');

// ---------- scrollbar & footer ----------
svg.append('rect').attr('x',0).attr('y',802).attr('width',W).attr('height',21).attr('fill','#f0f0f0');
svg.append('line').attr('x1',0).attr('x2',W).attr('y1',802.5).attr('y2',802.5).attr('stroke','#d8d8d8');
svg.append('rect').attr('x',1790).attr('y',804).attr('width',21).attr('height',17).attr('fill','#cdcdcd');
svg.append('path').attr('d','M11,808L7,812.5L11,817').attr('stroke','#606060').attr('fill','none').attr('stroke-width',1.2);
svg.append('path').attr('d','M1886,808L1890,812.5L1886,817').attr('stroke','#606060').attr('fill','none').attr('stroke-width',1.2);
svg.append('rect').attr('x',0).attr('y',823).attr('width',W).attr('height',15).attr('fill','#ffffff');
svg.append('text').attr('x',1898).attr('y',835).attr('text-anchor','end').attr('font-size',11).attr('fill','#202020')
  .text('Created with TradeStation. \u00a9TradeStation Technologies, Inc. All rights reserved.');
</script></body></html>
